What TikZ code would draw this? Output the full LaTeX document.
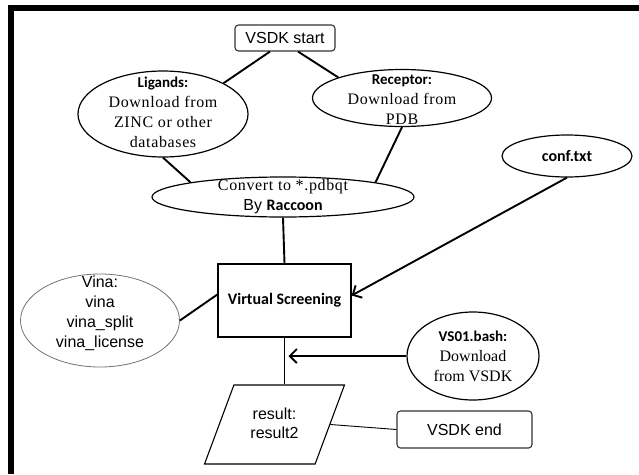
\documentclass[tikz,border=0pt]{standalone}
\usepackage{fontspec}
\setmainfont{Liberation Serif}
\newfontfamily\arialf{Liberation Sans}
\newfontfamily\calibf{Carlito}
\newfontfamily\serifsp{Liberation Serif}[LetterSpace=4]
\usetikzlibrary{shapes.geometric,arrows.meta}
\tikzset{
  conn/.style={line width=1.9pt},
  arr/.style={line width=1.9pt,-{Straight Barb[length=7pt,width=14pt]}},
  ell/.style={ellipse,draw,line width=1.2pt,inner sep=0pt},
  lab/.style={align=center,inner sep=0pt},
  rbox/.style={rectangle,rounded corners=3.5pt,draw=black!80,line width=1.1pt,inner sep=0pt,
    font=\fontsize{16}{20}\selectfont\arialf},
  boldc/.style={font=\fontsize{16}{20}\selectfont\calibf\bfseries},
}
\begin{document}
\begin{tikzpicture}[x=1pt,y=-1pt]
\useasboundingbox (0,0) rectangle (639,474);
% frame
\fill[black] (8,5) rectangle (639,11);
\fill[black] (8,5) rectangle (14,474);

% nodes
\node[rbox,minimum width=100pt,minimum height=26pt] (start) at (285,38) {VSDK start};

\node[ell,minimum width=170pt,minimum height=86pt,
  label={[lab,yshift=2pt,font=\fontsize{16}{20}\selectfont\serifsp]center:{{\fontsize{15}{20}\selectfont\calibf\bfseries Ligands:}\\Download from\\ZINC or other\\databases}}] (lig) at (163,114) {};

\node[ell,minimum width=179pt,minimum height=57pt,
  label={[lab,yshift=-2pt,font=\fontsize{16}{20}\selectfont\serifsp]center:{{\fontsize{15}{20}\selectfont\calibf\bfseries Receptor:}\\Download from\\PDB}}] (rec) at (402,98) {};

\node[ell,minimum width=262pt,minimum height=40pt,
  label={[lab,yshift=0pt,font=\fontsize{16}{20}\selectfont\serifsp]center:{Convert to *.pdbqt\\{\arialf By} {\fontsize{16}{20}\selectfont\calibf\bfseries Raccoon}}}] (conv) at (283,197) {};

\node[ell,minimum width=130pt,minimum height=42pt,boldc] (conf) at (567,156) {conf.txt};

\node[rectangle,draw,line width=1.3pt,minimum width=133pt,minimum height=73pt,inner sep=0pt,boldc] (vs) at (284.5,300.5) {Virtual Screening};

\node[ellipse,draw=black!55,line width=0.8pt,inner sep=0pt,minimum width=159pt,minimum height=93pt,
  label={[lab,yshift=7pt,font=\fontsize{16}{20}\selectfont\arialf]center:{Vina:\\vina\\vina\_split\\vina\_license}}] (vina) at (100,320.5) {};

\node[ell,minimum width=132pt,minimum height=88pt,
  label={[lab,yshift=0pt,font=\fontsize{16}{20}\selectfont\rmfamily]center:{{\fontsize{15}{20}\selectfont\calibf\bfseries VS01.bash:}\\Download\\from VSDK}}] (vs01) at (473,356) {};

\node[trapezium,draw,line width=1.1pt,inner sep=0pt,trapezium stretches=true,
  trapezium left angle=66,trapezium right angle=114,
  minimum width=141pt,minimum height=79pt,
  font=\fontsize{16}{20}\selectfont\arialf] (res) at (274.5,424.5)
  {\raisebox{7.5pt}{\begin{tabular}{@{}c@{}}result:\\[-1pt]result2\end{tabular}}};

\node[rbox,minimum width=135pt,minimum height=37pt] (end) at (464.5,429.5) {VSDK end};

% connectors
\draw[conn] ([xshift=-15pt]start.south) -- (lig.north east);
\draw[conn] ([xshift=13pt]start.south) -- (rec.north west);
\draw[conn] (lig.south) -- (conv.171);
\draw[conn] (rec.south) -- (conv.9);
\draw[conn] (conv.south) -- (vs.north);
\draw[arr] (conf.south) -- ([yshift=5pt]vs.east);
\draw[conn] (vina.east) -- ([yshift=6pt]vs.west);
\draw[conn] (vs.south) -- (vs.south |- res.north);
\draw[arr] (vs01.west) -- ([xshift=4pt]vs.south |- vs01.west);
\draw[line width=0.9pt] (res.east) -- (end.west);
\end{tikzpicture}
\end{document}
